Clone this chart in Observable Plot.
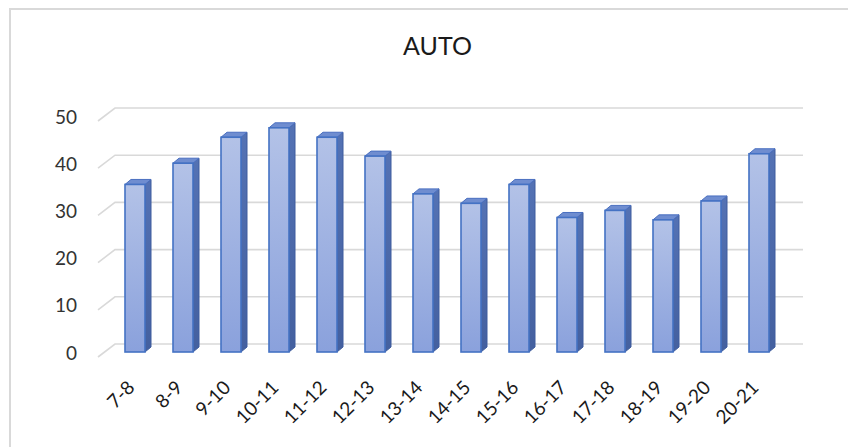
<!DOCTYPE html>
<html>
<head>
<meta charset="utf-8">
<script src="https://cdn.jsdelivr.net/npm/d3@7"></script>
<script src="https://cdn.jsdelivr.net/npm/@observablehq/plot@0.6"></script>
<style>
  html, body { margin: 0; padding: 0; background: #fff; }
  #wrap { position: relative; width: 848px; height: 447px; overflow: hidden; }
  #frame { position: absolute; left: 9px; top: 8px; width: 900px; height: 500px;
           border-left: 2px solid #d9d9d9; border-top: 2px solid #d9d9d9; box-sizing: border-box; }
  #chart { position: absolute; left: 0; top: 0; }
  #title { position: absolute; left: 27px; width: 821px; top: 30px; text-align: center;
           font-family: Lato, "Open Sans", sans-serif; font-size: 25px; color: #1a1a1a; }
</style>
</head>
<body>
<div id="wrap">
  <div id="frame"></div>
  <div id="chart"></div>
  <div id="title">AUTO</div>
</div>
<script>
const categories = ["7-8","8-9","9-10","10-11","11-12","12-13","13-14","14-15","15-16","16-17","17-18","18-19","19-20","20-21"];
const values = [35.5, 40, 45.5, 47.5, 45.5, 41.5, 33.5, 31.5, 35.5, 28.5, 30, 28, 32, 42];
const yTicks = [0, 10, 20, 30, 40, 50];

const data = categories.map((c, i) => ({cat: c, value: values[i]}));
const NS = "http://www.w3.org/2000/svg";
function el(tag, attrs) {
  const e = document.createElementNS(NS, tag);
  for (const k in attrs) e.setAttribute(k, attrs[k]);
  return e;
}

// 3D-like gridlines (back wall + floor slant)
function gridMark(index, scales, values, dims) {
  const g = el("g", {stroke: "#d9d9d9", "stroke-width": 1.6, fill: "none"});
  const left = dims.marginLeft, right = dims.width - dims.marginRight;
  for (const t of yTicks) {
    const y = scales.y(t);
    g.appendChild(el("path", {d: `M${left - 6.5},${y + 5}L${left + 10.5},${y - 8}L${right + 13},${y - 8}`}));
  }
  return g;
}

// 3D bars
function barMark(index, scales, values, dims) {
  const g = el("g", {});
  const defs = el("defs", {});
  const grad = el("linearGradient", {id: "frontGrad", x1: 0, y1: 0, x2: 0, y2: 1});
  grad.appendChild(el("stop", {offset: "0%", "stop-color": "#b3c2e7"}));
  grad.appendChild(el("stop", {offset: "100%", "stop-color": "#8aa1dc"}));
  defs.appendChild(grad);
  const sgrad = el("linearGradient", {id: "sideGrad", x1: 0, y1: 0, x2: 0, y2: 1});
  sgrad.appendChild(el("stop", {offset: "0%", "stop-color": "#5472b4"}));
  sgrad.appendChild(el("stop", {offset: "100%", "stop-color": "#44609f"}));
  defs.appendChild(sgrad);
  g.appendChild(defs);
  const hw = 10, dx = 6, dy = -5;
  const y0 = scales.y(0);
  for (const d of data) {
    const cx = scales.x(d.cat);
    const yv = scales.y(d.value);
    g.appendChild(el("path", {
      d: `M${cx + hw},${yv}L${cx + hw + dx},${yv + dy}L${cx + hw + dx},${y0 + dy}L${cx + hw},${y0}Z`,
      fill: "url(#sideGrad)", stroke: "#3f5d9e", "stroke-width": 1, "stroke-linejoin": "round"
    }));
    g.appendChild(el("path", {
      d: `M${cx - hw},${yv}L${cx - hw + dx},${yv + dy}L${cx + hw + dx},${yv + dy}L${cx + hw},${yv}Z`,
      fill: "#6f8dd0", stroke: "#4a6fc0", "stroke-width": 1, "stroke-linejoin": "round"
    }));
    g.appendChild(el("rect", {
      x: cx - hw, y: yv, width: 2 * hw, height: y0 - yv,
      fill: "url(#frontGrad)", stroke: "#4472c4", "stroke-width": 1.6
    }));
  }
  return g;
}

const chart = Plot.plot({
  width: 848,
  height: 447,
  marginLeft: 104.5,
  marginRight: 58,
  marginTop: 116,
  marginBottom: 95,
  style: {fontFamily: "Lato, 'Open Sans', sans-serif", background: "transparent", overflow: "visible"},
  x: {type: "point", domain: categories, padding: 0.5},
  y: {domain: [0, 50]},
  marks: [
    gridMark,
    Plot.axisY({ticks: yTicks, tickSize: 0, tickPadding: 28, fontSize: 19, fill: "#333", dy: 1, label: null}),
    Plot.axisX({ticks: categories, tickSize: 0, tickRotate: -45, tickPadding: 32, dx: -4, fontSize: 19, fill: "#1a1a1a", label: null}),
    barMark
  ]
});
document.getElementById("chart").appendChild(chart);
</script>
</body>
</html>
